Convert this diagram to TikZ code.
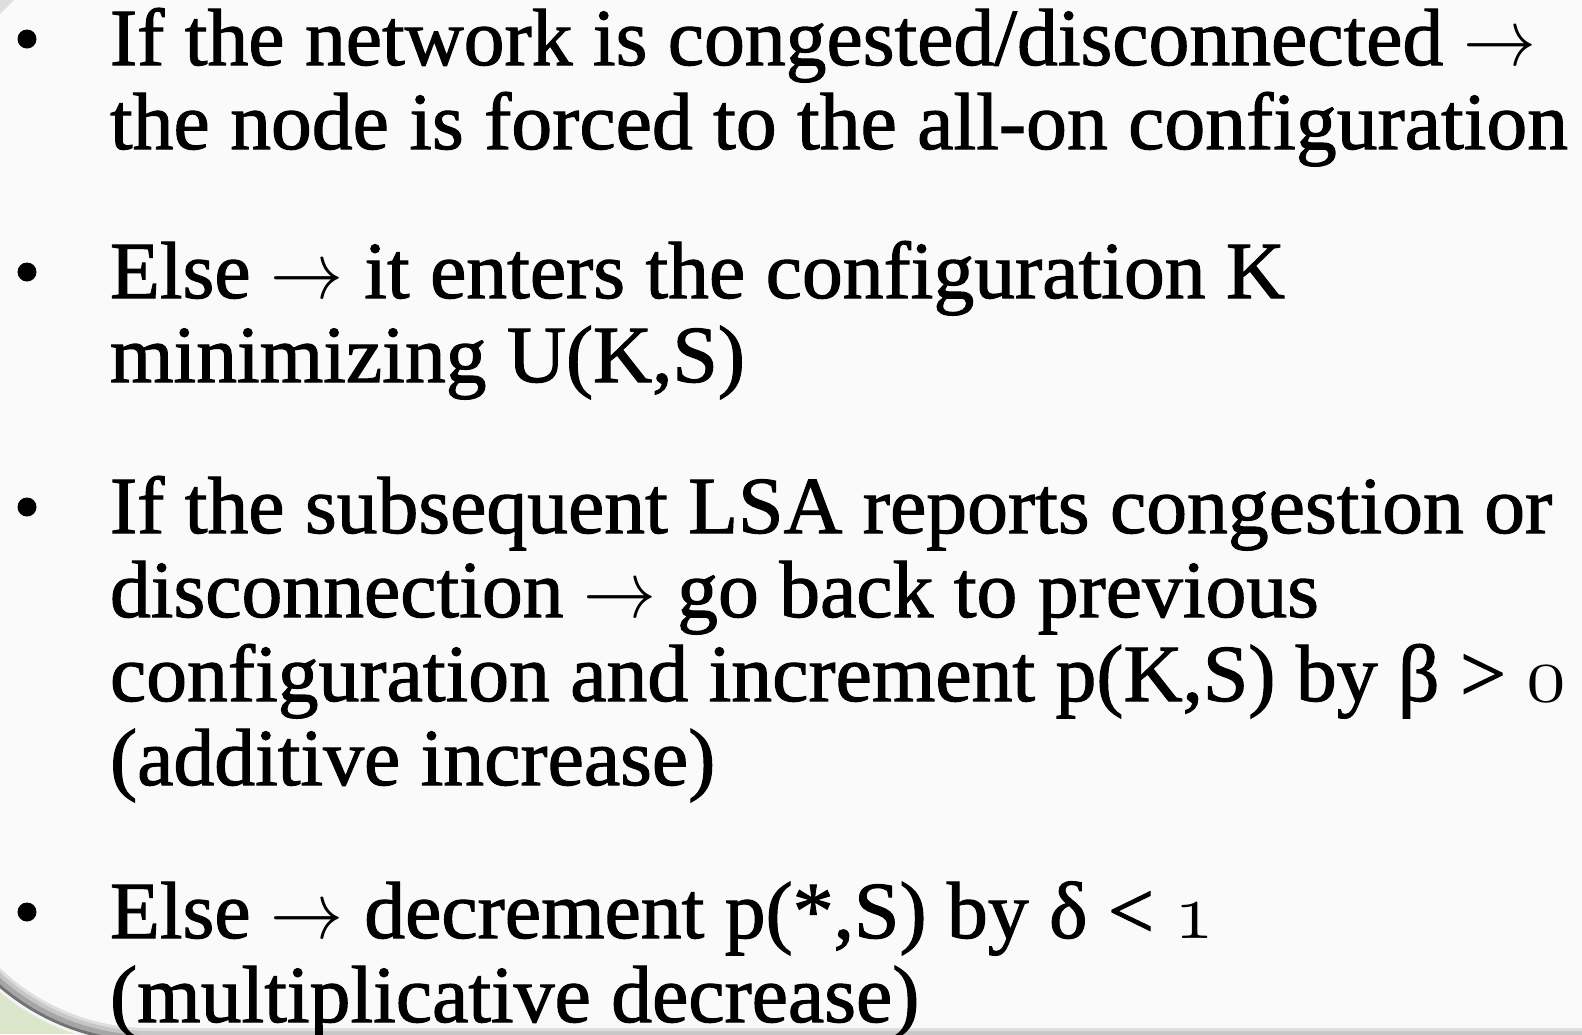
\RequirePackage{fix-cm}
\documentclass[tikz,border=0pt]{standalone}
\usepackage{fontspec}
\setmainfont{Liberation Serif}[Ligatures=CommonOff, FakeStretch=1.008, FakeBold=1.3]
\newcommand\bodyfont{\fontsize{40.5}{42}\selectfont}
\newcommand\osnum[1]{{\usefont{OML}{cmm}{m}{it}#1}}
\newcommand\rarr{\scalebox{0.9}[1]{\usefont{OMS}{cmsy}{m}{n}\char"21}}
\definecolor{pagebg}{HTML}{FAFAFA}
\definecolor{greenbg}{HTML}{DCE6CA}
\definecolor{sh1}{HTML}{F4F4F4}
\definecolor{sh2}{HTML}{727272}
\definecolor{sh3}{HTML}{A6A6A6}
\definecolor{sh4}{HTML}{C6C6C6}
\definecolor{sh5}{HTML}{DEDEDE}
\tikzset{
  panelpath/.style={insert path={(-67,-100) -- (-67,811) .. controls (-67,931) and (30,1028) .. (150,1028) -- (1700,1028) -- (1700,-100) -- cycle}},
  txt/.style={anchor=base west, inner sep=0pt, outer sep=0pt, font=\bodyfont, text=black},
  bulletdot/.style={circle, fill=black, inner sep=0pt, minimum size=9.5pt},
}
\begin{document}
\begin{tikzpicture}[x=0.5pt,y=-0.5pt]
\useasboundingbox (0,0) rectangle (1582,1034);
% background and panel
\fill[greenbg] (0,0) rectangle (1582,1034);
\draw[sh1, line width=18pt, panelpath];
\draw[sh2, line width=15pt, panelpath];
\draw[sh3, line width=12pt, panelpath];
\draw[sh4, line width=7pt, panelpath];
\draw[sh5, line width=3pt, panelpath];
\fill[pagebg, panelpath];
\fill[sh5] (0,0) -- (14,0) -- (0,14) -- cycle;
% bullets
\node[bulletdot] (b1) at (27,39) {};
\node[bulletdot] (b2) at (27,272) {};
\node[bulletdot] (b3) at (27,507) {};
\node[bulletdot] (b4) at (27,912) {};
% text lines
\node[txt] (l1) at (110,65) {If the network is congested/disconnected \rarr};
\node[txt] (l2) at (110,149) {the node is forced to the all-on configuration};
\node[txt] (l3) at (110,298) {Else \rarr{} it enters the configuration K};
\node[txt] (l4) at (110,382) {minimizing U(K,S)};
\node[txt] (l5) at (110,533) {If the subsequent LSA reports congestion or};
\node[txt] (l6) at (110,617) {disconnection \rarr{} go back to previous};
\node[txt] (l7) at (110,701) {configuration and increment p(K,S) by β > \osnum{0}};
\node[txt] (l8) at (110,785) {(additive increase)};
\node[txt] (l9) at (110,938) {Else \rarr{} decrement p(*,S) by δ < \osnum{1}};
\node[txt] (l10) at (110,1022) {(multiplicative decrease)};
\end{tikzpicture}
\end{document}
